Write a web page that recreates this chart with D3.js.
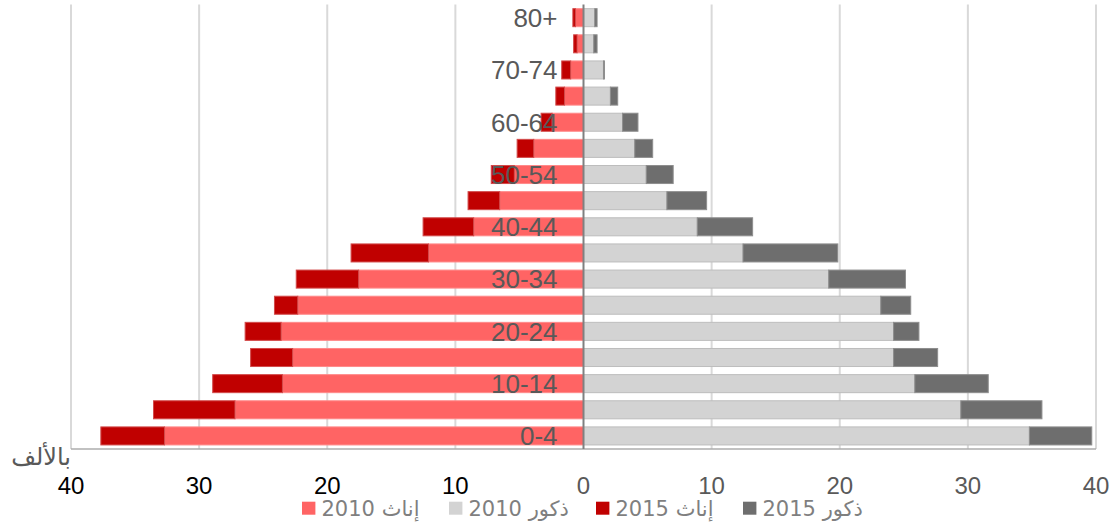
<!DOCTYPE html>
<html>
<head>
<meta charset="utf-8">
<script src="https://cdn.jsdelivr.net/npm/d3@7"></script>
<style>
  html, body { margin: 0; padding: 0; background: #fff; }
  svg { display: block; }
</style>
</head>
<body>
<svg id="chart" width="1117" height="529"></svg>
<script>
// Age groups, bottom to top
const ageGroups = ["0-4","5-9","10-14","15-19","20-24","25-29","30-34","35-39","40-44","45-49","50-54","55-59","60-64","65-69","70-74","75-79","80+"];
// Values in thousands (2015 segments are stacked on the 2010 segments)
const female2010 = [32.7, 27.2, 23.5, 22.7, 23.6, 22.3, 17.55, 12.1, 8.57, 6.54, 5.4, 3.88, 2.45, 1.48, 1.0, 0.5, 0.63];
const female2015 = [4.97, 6.36, 5.44, 3.28, 2.81, 1.82, 4.87, 6.04, 3.95, 2.47, 1.8, 1.3, 0.86, 0.68, 0.7, 0.27, 0.2];
const male2010   = [34.8, 29.45, 25.86, 24.2, 24.2, 23.2, 19.14, 12.45, 8.88, 6.51, 4.9, 4.0, 3.05, 2.1, 1.56, 0.8, 0.88];
const male2015   = [4.87, 6.33, 5.73, 3.44, 1.98, 2.34, 5.99, 7.40, 4.32, 3.10, 2.1, 1.4, 1.2, 0.57, 0.08, 0.26, 0.18];
const tickValues = [-40, -30, -20, -10, 0, 10, 20, 30, 40];
const legendLabels = ["إناث 2010", "ذكور 2010", "إناث 2015", "ذكور 2015"];
const unitLabel = "بالألف";

const colors = {
  f2010: {fill: "#ff6464", stroke: "#ff8a8a"},
  m2010: {fill: "#d3d3d3", stroke: "#bdbdbd"},
  f2015: {fill: "#c00000", stroke: "#d24a4a"},
  m2015: {fill: "#6e6e6e", stroke: "#8e8e8e"}
};

const svg = d3.select("#chart");
const plotTop = 4.6, plotBottom = 449;
const x = d3.scaleLinear().domain([-40, 40]).range([71, 1096]);
const y = d3.scaleBand().domain(ageGroups.slice().reverse()).range([plotTop, plotBottom]).paddingInner(0.31).paddingOuter(0.155);

// gridlines
svg.append("g").selectAll("line").data(tickValues.filter(d => d !== 0)).join("line")
  .attr("x1", d => x(d)).attr("x2", d => x(d))
  .attr("y1", plotTop).attr("y2", plotBottom)
  .attr("stroke", "#d9d9d9").attr("stroke-width", 2);

// bottom axis line
svg.append("line").attr("x1", x(-40)).attr("x2", x(40)).attr("y1", plotBottom).attr("y2", plotBottom)
  .attr("stroke", "#acacac").attr("stroke-width", 1.5);

const rows = ageGroups.map((a, i) => ({age: a, f10: female2010[i], f15: female2015[i], m10: male2010[i], m15: male2015[i]}));

const bars = svg.append("g");
function seg(x0fn, x1fn, col) {
  bars.append("g").selectAll("rect").data(rows).join("rect")
    .attr("x", d => Math.min(x(x0fn(d)), x(x1fn(d))))
    .attr("width", d => Math.abs(x(x1fn(d)) - x(x0fn(d))))
    .attr("y", d => y(d.age))
    .attr("height", y.bandwidth())
    .attr("fill", col.fill).attr("stroke", col.stroke).attr("stroke-width", 1);
}
seg(d => 0, d => -d.f10, colors.f2010);
seg(d => -d.f10, d => -(d.f10 + d.f15), colors.f2015);
seg(d => 0, d => d.m10, colors.m2010);
seg(d => d.m10, d => d.m10 + d.m15, colors.m2015);

// zero line
svg.append("line").attr("x1", x(0)).attr("x2", x(0)).attr("y1", plotTop).attr("y2", plotBottom)
  .attr("stroke", "#808080").attr("stroke-width", 2);

// age labels (every other)
svg.append("g").selectAll("text").data(ageGroups.filter((d, i) => i % 2 === 0)).join("text")
  .attr("x", x(0) - 26)
  .attr("y", d => y(d) + y.bandwidth() / 2 + 9.3)
  .attr("text-anchor", "end")
  .attr("font-family", "'Liberation Sans', Arial, sans-serif")
  .attr("font-size", 26)
  .attr("fill", "#595959")
  .text(d => d);

// x tick labels
svg.append("g").selectAll("text").data(tickValues).join("text")
  .attr("x", d => x(d))
  .attr("y", 494)
  .attr("text-anchor", "middle")
  .attr("font-family", "'Liberation Sans', Arial, sans-serif")
  .attr("font-size", 24)
  .attr("fill", d => d < 0 ? "#000000" : "#595959")
  .text(d => Math.abs(d));

// unit label
svg.append("text")
  .attr("x", 71).attr("y", 465)
  .attr("direction", "rtl")
  .attr("text-anchor", "start")
  .attr("font-family", "'DejaVu Sans', sans-serif")
  .attr("font-size", 24)
  .attr("fill", "#595959")
  .text(unitLabel);

// legend
const legendColors = [colors.f2010.fill, colors.m2010.fill, colors.f2015.fill, colors.m2015.fill];
const lg = svg.append("g");
legendLabels.forEach((lab, i) => {
  const lx = 302 + i * 147;
  lg.append("rect").attr("x", lx).attr("y", 501.7).attr("width", 13.4).attr("height", 13)
    .attr("fill", legendColors[i]);
  lg.append("text")
    .attr("x", lx + 19.5).attr("y", 516)
    .attr("direction", "rtl")
    .attr("text-anchor", "end")
    .attr("font-family", "'DejaVu Sans', sans-serif")
    .attr("font-size", 21)
    .attr("fill", "#7f7f7f")
    .text(lab);
});
</script>
</body>
</html>
